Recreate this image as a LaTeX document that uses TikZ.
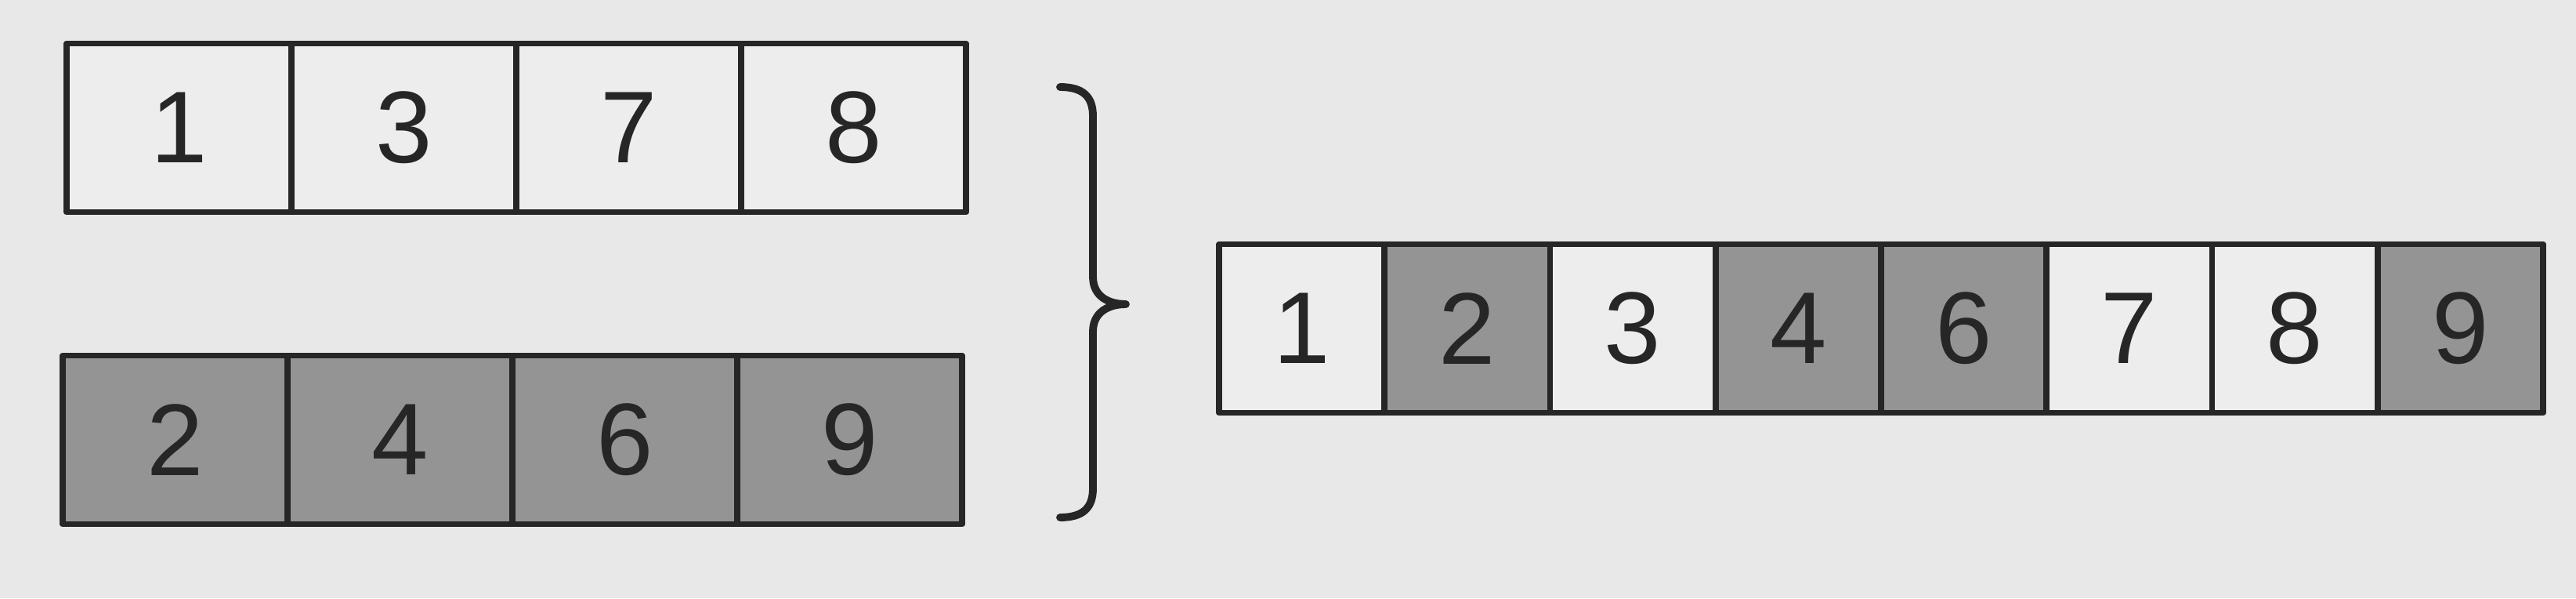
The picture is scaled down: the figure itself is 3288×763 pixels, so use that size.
\documentclass[tikz,border=0pt]{standalone}
\usepackage{fontspec}
\setmainfont{Liberation Sans}
\usetikzlibrary{positioning}
\begin{document}
\begin{tikzpicture}[x=0.01cm,y=0.01cm,line join=round,line cap=round,
	cell/.style={draw=black!85,line width=2.2pt,inner sep=0pt,outer sep=0pt,minimum height=2.15cm,font=\fontsize{37}{44}\selectfont,text=black!85},
	wide/.style={cell,minimum width=2.87cm},
	narrow/.style={cell,minimum width=2.1125cm},
	dark/.style={fill=black!42},
	light/.style={fill=black!7}]
	\fill[black!9] (0,0) rectangle (3288,763);
	\useasboundingbox (0,0) rectangle (3288,763);
	% the two sorted lists
	\foreach \v [count=\i] in {1,3,7,8} \node[wide,light] (a\i) at ({85+287*(\i-0.5)},600) {\v};
	\foreach \v [count=\i] in {2,4,6,9} \node[wide,dark] (b\i) at ({80+287*(\i-0.5)},202) {\v};
	% brace
	\coordinate (btop) at (1353,652);
	\coordinate (bbot) at (1353,103);
	\coordinate (btip) at (1437,375);
	\draw[black!85,line width=2.8pt] (btop) .. controls (1382,652) and (1395,640) .. (1395,615) -- (1395,410)
		.. controls (1395,385) and (1415,375) .. (btip) .. controls (1415,375) and (1395,365) .. (1395,340)
		-- (1395,140) .. controls (1395,115) and (1382,103) .. (bbot);
	% merged list
	\foreach \v/\s [count=\i] in {1/light,2/dark,3/light,4/dark,6/dark,7/light,8/light,9/dark}
		\node[narrow,\s] (c\i) at ({1556+211.25*(\i-0.5)},344) {\v};
\end{tikzpicture}
\end{document}
